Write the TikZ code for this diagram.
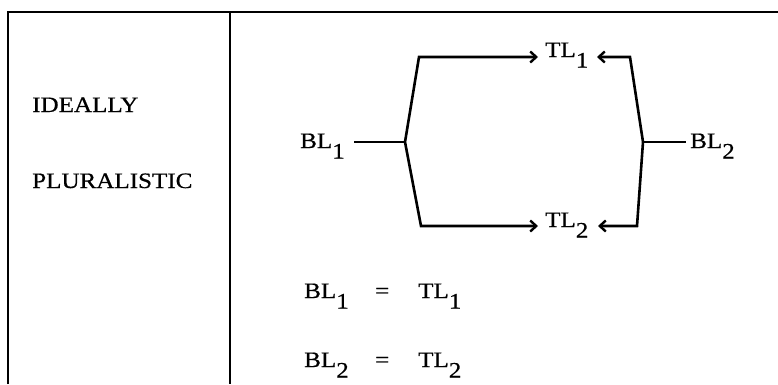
\documentclass[tikz,border=0pt]{standalone}
\usepackage{fontspec}
\setmainfont[FakeStretch=1.14,FakeBold=0.6]{Liberation Serif}
\usetikzlibrary{arrows.meta}
\newcommand\lsub[1]{\raisebox{-10.5pt}{\fontsize{22}{22}\selectfont #1}}
\begin{document}
\begin{tikzpicture}[x=1pt,y=-1pt,
  lbl/.style={anchor=base west,inner sep=0pt,font=\fontsize{22}{26}\selectfont},
  frame/.style={line width=2pt},
  conn/.style={line width=2.6pt,line join=miter},
  tip/.style={-{Straight Barb[length=6pt,width=11pt,line width=2.4pt]}}]
\useasboundingbox (0,0) rectangle (778,384);
% frame
\draw[frame] (8,384) -- (8,12) -- (778,12);
\draw[frame] (230,12) -- (230,384);
% left texts
\node[lbl] (ideally) at (32,112) {IDEALLY};
\node[lbl] (plural) at (32,188) {PLURALISTIC};
% diagram nodes
\node[lbl] (bl1) at (300,148) {BL\lsub{1}};
\node[lbl] (tl1) at (545,57) {TL\lsub{1}};
\node[lbl] (tl2) at (545,227) {TL\lsub{2}};
\node[lbl] (bl2) at (690,148) {BL\lsub{2}};
\coordinate (j1) at (405,142);
\coordinate (j2) at (643,142);
\coordinate (a1) at (419,57);
\coordinate (a2) at (421,226);
\coordinate (b1) at (630,57);
\coordinate (b2) at (637,226);
\coordinate (bl1e) at (354,142);
\coordinate (bl2w) at (686,142);
\draw[conn] (bl1e) -- (j1);
\draw[conn] (j2) -- (bl2w);
\draw[conn,tip] (j1) -- (a1) -- ([xshift=-7pt]tl1.west |- a1);
\draw[conn,tip] (j1) -- (a2) -- ([xshift=-7pt]tl2.west |- a2);
\draw[conn,tip] (j2) -- (b1) -- (597,57);
\draw[conn,tip] (j2) -- (b2) -- (598,226);
% equations
\node[lbl] (e1l) at (304,298) {BL\lsub{1}};
\node[lbl] (e1m) at (375,298) {=};
\node[lbl] (e1r) at (418,298) {TL\lsub{1}};
\node[lbl] (e2l) at (304,367) {BL\lsub{2}};
\node[lbl] (e2m) at (375,367) {=};
\node[lbl] (e2r) at (418,367) {TL\lsub{2}};
\end{tikzpicture}
\end{document}
